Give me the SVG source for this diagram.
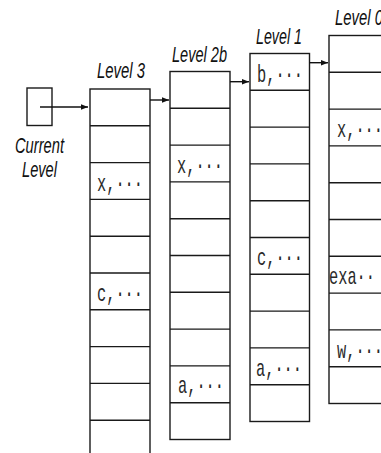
<svg xmlns="http://www.w3.org/2000/svg" width="381" height="453" viewBox="0 0 381 453">
<style>
.col{fill:#fff;stroke:#1a1a1a;stroke-width:1.4}
.row{stroke:#1a1a1a;stroke-width:1.4}
.lbl{font-family:"Liberation Sans",Arial,sans-serif;font-style:italic;font-size:21.5px;fill:#111}
.cell{font-family:"Liberation Mono","DejaVu Sans Mono",monospace;font-size:24px;fill:#2a2a2a}
.con{stroke:#111;stroke-width:1.4;fill:none}
</style>
<defs>
<marker id="ah" viewBox="0 0 10 10" refX="10" refY="5" markerWidth="7" markerHeight="7" markerUnits="userSpaceOnUse" orient="auto">
<path d="M0,1 L10,5 L0,9 Z" fill="#111"/>
</marker>
</defs>
<rect width="381" height="453" fill="#fff"/>

<g id="current-level">
<rect x="27" y="88" width="25" height="37.5" class="col"/>
<text class="lbl" x="15" y="153" textLength="49" lengthAdjust="spacingAndGlyphs">Current</text>
<text class="lbl" x="22" y="177" textLength="35" lengthAdjust="spacingAndGlyphs">Level</text>
</g>

<g id="level-3">
<text class="lbl" x="97" y="78" textLength="48" lengthAdjust="spacingAndGlyphs">Level 3</text>
<rect x="90" y="89" width="60" height="380" class="col"/>
<path class="row" d="M90,125.8H150M90,162.6H150M90,199.4H150M90,236.2H150M90,273H150M90,309.8H150M90,346.6H150M90,383.4H150M90,420.2H150"/>
<text class="cell" x="97" y="191" textLength="46" lengthAdjust="spacingAndGlyphs">x,···</text>
<text class="cell" x="97" y="301" textLength="46" lengthAdjust="spacingAndGlyphs">c,···</text>
</g>

<g id="level-2b">
<text class="lbl" x="172" y="62" textLength="55" lengthAdjust="spacingAndGlyphs">Level 2b</text>
<rect x="170" y="71.5" width="60" height="368" class="col"/>
<path class="row" d="M170,108.3H230M170,145.1H230M170,181.9H230M170,218.7H230M170,255.5H230M170,292.3H230M170,329.1H230M170,365.9H230M170,402.7H230"/>
<text class="cell" x="177" y="173" textLength="46" lengthAdjust="spacingAndGlyphs">x,···</text>
<text class="cell" x="178" y="393" textLength="46" lengthAdjust="spacingAndGlyphs">a,···</text>
</g>

<g id="level-1">
<text class="lbl" x="256" y="43.5" textLength="46" lengthAdjust="spacingAndGlyphs">Level 1</text>
<rect x="250" y="53.5" width="59.5" height="368" class="col"/>
<path class="row" d="M250,90.3H309.5M250,127.1H309.5M250,163.9H309.5M250,200.7H309.5M250,237.5H309.5M250,274.3H309.5M250,311.1H309.5M250,347.9H309.5M250,384.7H309.5"/>
<text class="cell" x="257" y="82" textLength="46" lengthAdjust="spacingAndGlyphs">b,···</text>
<text class="cell" x="257" y="265" textLength="46" lengthAdjust="spacingAndGlyphs">c,···</text>
<text class="cell" x="256" y="376" textLength="46" lengthAdjust="spacingAndGlyphs">a,···</text>
</g>

<g id="level-0">
<text class="lbl" x="335" y="25" textLength="48" lengthAdjust="spacingAndGlyphs">Level 0</text>
<rect x="329" y="35.5" width="80" height="368" class="col"/>
<path class="row" d="M329,72.3H409M329,109.1H409M329,145.9H409M329,182.7H409M329,219.5H409M329,256.3H409M329,293.1H409M329,329.9H409M329,366.7H409"/>
<text class="cell" x="337" y="137" textLength="46" lengthAdjust="spacingAndGlyphs">x,···</text>
<text class="cell" x="329" y="284" textLength="46" lengthAdjust="spacingAndGlyphs">exa··</text>
<text class="cell" x="337" y="358" textLength="46" lengthAdjust="spacingAndGlyphs">w,···</text>
</g>

<g id="connectors">
<line class="con" x1="40" y1="107" x2="88" y2="107" marker-end="url(#ah)"/>
<line class="con" x1="150" y1="100" x2="169" y2="100" marker-end="url(#ah)"/>
<line class="con" x1="230" y1="81.7" x2="249" y2="81.7" marker-end="url(#ah)"/>
<line class="con" x1="309.5" y1="62.7" x2="328" y2="62.7" marker-end="url(#ah)"/>
</g>
</svg>
